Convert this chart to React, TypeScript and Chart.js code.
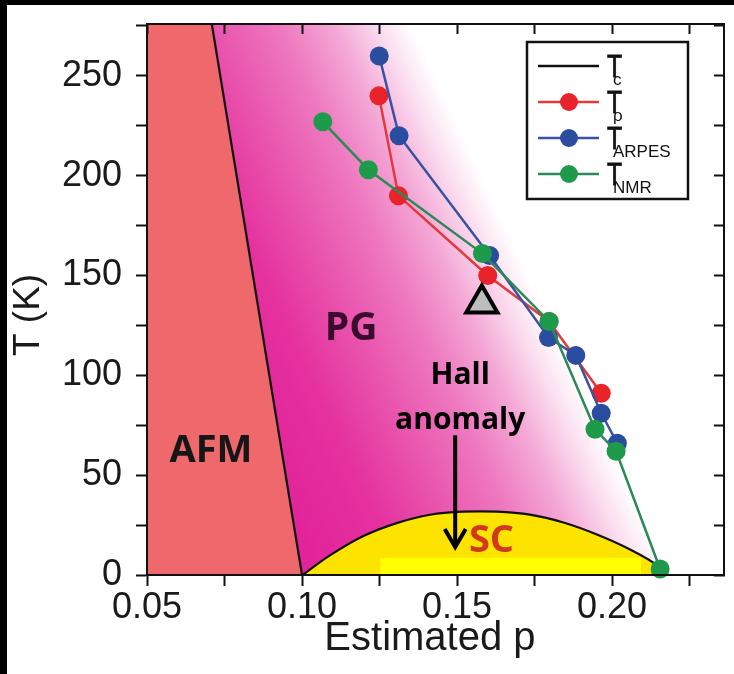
import React, { useEffect, useRef } from 'react';
import { Chart, registerables } from 'chart.js';

Chart.register(...registerables);

// ---- axis ranges and tick labels ----
const pRange = [0.05, 0.2361];
const tRange = [0, 276];
const xTickLabels = ['0.05', '0.10', '0.15', '0.20'];
const yTickLabels = ['0', '50', '100', '150', '200', '250'];

// ---- series (estimated p, T in K) ----
const rhoP = [0.1248, 0.1311, 0.1599, 0.1797, 0.1965];
const rhoT = [240, 190, 150, 127, 91];

const arpesP = [0.1249, 0.1313, 0.1605, 0.1795, 0.1883, 0.1965, 0.2017];
const arpesT = [260, 220, 160, 119, 110, 81, 66];

const nmrP = [0.1067, 0.1214, 0.1582, 0.1797, 0.1945, 0.2013, 0.2155];
const nmrT = [227, 203, 161, 127, 73, 62, 3];

// superconducting dome Tc
const tcP = [0.1002, 0.109, 0.1198, 0.1305, 0.1413, 0.152, 0.1628, 0.1735, 0.1843, 0.1951, 0.2058, 0.2144, 0.2165];
const tcT = [0, 9.8, 19.5, 26, 30.2, 31.7, 31.7, 30.2, 26.3, 20.3, 12.8, 5, 0];

// Hall anomaly marker
const hallP = [0.158];
const hallT = [136];

// region boundaries
const afmP = [0.05, 0.0709, 0.1];
const afmT = [276, 276, 0];
const pgP = [0.0709, 0.2361];
const pgT = [276, 276];
const bandP = [0.1252, 0.2094];
const bandT = [8.7, 8.7];

// pseudogap shading direction (data coordinates)
const gradFrom = [0.1, 0];
const gradTo = [0.197, 70.6];

// text annotations
const regionLabels = ['AFM', 'PG', 'SC'];
const regionP = [0.0706, 0.1158, 0.1611];
const regionT = [56.6, 117.7, 11.5];
const hallLines = ['Hall', 'anomaly'];
const hallTextP = 0.151;
const hallTextT = [95.7, 73];
const arrowP = 0.1494;
const arrowT = [70, 14];

const legendSubs = ['c', 'ρ', 'ARPES', 'NMR'];

// ---- styles ----
const RED = '#E8232A';
const RED_LINE = '#E03A3C';
const BLUE = '#2B4DA0';
const BLUE_LINE = '#3A52A2';
const GREEN = '#1E9B4A';
const GREEN_LINE = '#2A8A58';
const AXIS = '#111111';
const LABEL_FONT = '"Liberation Sans", Arial, Helvetica, sans-serif';
const NOTE_FONT = '"Open Sans", "Liberation Sans", sans-serif';
const regionColors = ['#161616', '#3B0B2E', '#D2381E'];
const regionSizes = [38, 39, 38];

const pgStops: [number, string][] = [
  [0, '#E1219A'],
  [0.275, '#E5319E'],
  [0.456, '#E954AD'],
  [0.637, '#EE78BF'],
  [0.789, '#F4A8D6'],
  [0.91, '#FBDDEF'],
  [1, '#FFFFFF'],
];

const pts = (xs: number[], ys: number[]) => xs.map((x, i) => ({ x, y: ys[i] }));

function pgGradient(c: any) {
  const chart = c.chart;
  const { chartArea, scales } = chart;
  if (!chartArea || !scales || !scales.x || !scales.y) return '#EE78BF';
  const g = chart.ctx.createLinearGradient(
    scales.x.getPixelForValue(gradFrom[0]),
    scales.y.getPixelForValue(gradFrom[1]),
    scales.x.getPixelForValue(gradTo[0]),
    scales.y.getPixelForValue(gradTo[1])
  );
  pgStops.forEach(([o, col]) => g.addColorStop(o, col));
  return g;
}

const legendItems = [
  { color: AXIS, marker: null as string | null },
  { color: RED_LINE, marker: RED },
  { color: BLUE_LINE, marker: BLUE },
  { color: GREEN_LINE, marker: GREEN },
];

const overlayPlugin = {
  id: 'overlay',
  afterDatasetsDraw(chart: any) {
    const { ctx, chartArea } = chart;
    const xs = chart.scales.x;
    const ys = chart.scales.y;
    const px = (v: number) => xs.getPixelForValue(v);
    const py = (v: number) => ys.getPixelForValue(v);
    ctx.save();

    // region labels
    ctx.textAlign = 'center';
    ctx.textBaseline = 'alphabetic';
    regionLabels.forEach((t, i) => {
      ctx.font = `bold ${regionSizes[i]}px ${NOTE_FONT}`;
      ctx.fillStyle = regionColors[i];
      ctx.fillText(t, px(regionP[i]), py(regionT[i]));
    });

    // Hall anomaly text
    ctx.font = `bold 30px ${NOTE_FONT}`;
    ctx.fillStyle = '#000';
    hallLines.forEach((t, i) => ctx.fillText(t, px(hallTextP), py(hallTextT[i])));

    // arrow
    const ax = px(arrowP);
    const ay0 = py(arrowT[0]);
    const ay1 = py(arrowT[1]);
    ctx.strokeStyle = '#000';
    ctx.lineWidth = 4;
    ctx.beginPath();
    ctx.moveTo(ax, ay0);
    ctx.lineTo(ax, ay1 - 1);
    ctx.stroke();
    ctx.beginPath();
    ctx.moveTo(ax - 10.5, ay1 - 18);
    ctx.lineTo(ax, ay1);
    ctx.lineTo(ax + 10.5, ay1 - 18);
    ctx.lineJoin = 'miter';
    ctx.stroke();

    // legend box
    const bx = chartArea.right - 197;
    const by = chartArea.top + 18;
    const bw = 161;
    const bh = 157;
    ctx.fillStyle = '#fff';
    ctx.fillRect(bx, by, bw, bh);
    ctx.lineWidth = 2.5;
    ctx.strokeStyle = '#111';
    ctx.strokeRect(bx, by, bw, bh);
    legendItems.forEach((it, i) => {
      const ly = by + 24 + i * 36;
      ctx.strokeStyle = it.color;
      ctx.lineWidth = 2.5;
      ctx.beginPath();
      ctx.moveTo(bx + 11, ly);
      ctx.lineTo(bx + 72, ly);
      ctx.stroke();
      if (it.marker) {
        ctx.fillStyle = it.marker;
        ctx.beginPath();
        ctx.arc(bx + 42, ly, 9, 0, Math.PI * 2);
        ctx.fill();
      }
      ctx.fillStyle = '#111';
      ctx.strokeStyle = '#111';
      ctx.textAlign = 'left';
      ctx.save();
      ctx.translate(bx + 80, ly + 11);
      ctx.scale(0.8, 1);
      ctx.font = `31px ${LABEL_FONT}`;
      ctx.lineWidth = 0.8;
      ctx.fillText('T', 0, 0);
      ctx.strokeText('T', 0, 0);
      ctx.restore();
      ctx.font = `17px ${LABEL_FONT}`;
      ctx.fillText(legendSubs[i], bx + 86, ly + 19);
    });

    ctx.restore();
  },
};

const tickFont = { family: LABEL_FONT, size: 36 };

const noPad = (s: any) => {
  s.paddingTop = 0;
  s.paddingBottom = 0;
  s.paddingLeft = 0;
  s.paddingRight = 0;
};

export default function App() {
  const ref = useRef<HTMLCanvasElement>(null);

  useEffect(() => {
    const canvas = ref.current;
    if (!canvas) return;

    const seriesBase = {
      showLine: true,
      borderWidth: 2.5,
      pointRadius: 9.5,
      pointBorderWidth: 0,
      tension: 0,
      clip: false as any,
    };
    const areaBase = {
      showLine: true,
      borderWidth: 0,
      borderColor: 'transparent',
      pointRadius: 0,
      fill: 'origin',
    };

    const chart = new Chart(canvas, {
      type: 'scatter',
      data: {
        datasets: [
          {
            label: 'Hall anomaly',
            data: pts(hallP, hallT),
            order: 0,
            showLine: false,
            pointStyle: 'triangle',
            pointRadius: 18,
            pointBackgroundColor: '#BDBDBD',
            pointBorderColor: '#000',
            pointBorderWidth: 4,
            clip: false as any,
          },
          {
            ...seriesBase,
            label: 'T_NMR',
            data: pts(nmrP, nmrT),
            order: 1,
            borderColor: GREEN_LINE,
            pointBackgroundColor: GREEN,
            pointBorderColor: GREEN,
          },
          {
            ...seriesBase,
            label: 'T_ARPES',
            data: pts(arpesP, arpesT),
            order: 2,
            borderColor: BLUE_LINE,
            pointBackgroundColor: BLUE,
            pointBorderColor: BLUE,
          },
          {
            ...seriesBase,
            label: 'T_ρ',
            data: pts(rhoP, rhoT),
            order: 3,
            borderColor: RED_LINE,
            pointBackgroundColor: RED,
            pointBorderColor: RED,
          },
          {
            ...areaBase,
            label: 'band',
            data: pts(bandP, bandT),
            order: 4,
            backgroundColor: '#FFFF00',
          },
          {
            label: 'T_c',
            data: pts(tcP, tcT),
            order: 5,
            showLine: true,
            borderColor: AXIS,
            borderWidth: 2.2,
            pointRadius: 0,
            tension: 0.35,
            fill: 'origin',
            backgroundColor: '#FDE300',
          },
          {
            label: 'AFM boundary',
            data: pts(afmP.slice(1), afmT.slice(1)),
            order: 6,
            showLine: true,
            borderColor: AXIS,
            borderWidth: 2.2,
            pointRadius: 0,
          },
          {
            ...areaBase,
            label: 'AFM',
            data: pts(afmP, afmT),
            order: 7,
            backgroundColor: '#EE686C',
          },
          {
            ...areaBase,
            label: 'PG',
            data: pts(pgP, pgT),
            order: 8,
            backgroundColor: pgGradient,
          },
        ] as any,
      },
      options: {
        animation: false,
        responsive: false,
        events: [],
        layout: { autoPadding: false, padding: { top: 19, right: 10, left: 0, bottom: 0 } },
        plugins: {
          legend: { display: false },
          tooltip: { enabled: false },
        },
        scales: {
          x: {
            type: 'linear',
            position: 'bottom',
            min: pRange[0],
            max: pRange[1],
            afterFit: (s: any) => {
              s.height = 99;
              noPad(s);
            },
            border: { display: true, color: AXIS, width: 2, z: 1 },
            grid: { drawOnChartArea: false, drawTicks: true, tickLength: 11, tickWidth: 2, color: AXIS },
            ticks: {
              stepSize: 0.025,
              autoSkip: false,
              maxRotation: 0,
              minRotation: 0,
              includeBounds: false,
              maxTicksLimit: 20,
              padding: 0,
              color: '#1a1a1a',
              font: tickFont,
              callback: (v: any) => {
                const s = Number(v).toFixed(2);
                return xTickLabels.includes(s) ? s : '';
              },
            },
            title: {
              display: true,
              text: 'Estimated p ',
              color: '#1a1a1a',
              font: { family: LABEL_FONT, size: 40 },
              padding: { top: 0, bottom: 11 },
            },
          },
          x2: {
            type: 'linear',
            position: 'top',
            min: pRange[0],
            max: pRange[1],
            afterFit: (s: any) => {
              s.height = 0;
              noPad(s);
            },
            border: { display: true, color: AXIS, width: 2, z: 1 },
            grid: { drawOnChartArea: false, drawTicks: true, tickLength: -10, tickWidth: 2, color: AXIS, z: 1 },
            ticks: { display: false, stepSize: 0.025, includeBounds: false, maxTicksLimit: 20 },
          },
          y: {
            type: 'linear',
            position: 'left',
            min: tRange[0],
            max: tRange[1],
            afterFit: (s: any) => {
              s.width = 140;
              noPad(s);
            },
            border: { display: true, color: AXIS, width: 2, z: 1 },
            grid: { drawOnChartArea: false, drawTicks: true, tickLength: 11, tickWidth: 2, color: AXIS },
            ticks: {
              stepSize: 25,
              autoSkip: false,
              includeBounds: false,
              maxTicksLimit: 20,
              padding: 14,
              color: '#1a1a1a',
              font: tickFont,
              callback: (v: any) => {
                const s = String(Math.round(Number(v)));
                return yTickLabels.includes(s) ? s : '';
              },
            },
            title: {
              display: true,
              text: 'T (K)   ',
              color: '#1a1a1a',
              font: { family: LABEL_FONT, size: 37 },
              padding: { top: 0, bottom: 0 },
            },
          },
          y2: {
            type: 'linear',
            position: 'right',
            min: tRange[0],
            max: tRange[1],
            afterFit: (s: any) => {
              s.width = 0;
              noPad(s);
            },
            border: { display: true, color: AXIS, width: 2, z: 1 },
            grid: { drawOnChartArea: false, drawTicks: true, tickLength: -10, tickWidth: 2, color: AXIS, z: 1 },
            ticks: { display: false, stepSize: 25, includeBounds: false, maxTicksLimit: 20 },
          },
        },
      } as any,
      plugins: [overlayPlugin],
    });

    return () => chart.destroy();
  }, []);

  return (
    <div
      style={{
        position: 'absolute',
        left: 0,
        top: 0,
        width: 734,
        height: 674,
        background: '#000',
        overflow: 'hidden',
      }}
    >
      <div style={{ position: 'absolute', left: 7, top: 5, width: 727, height: 669, background: '#fff' }}>
        <canvas ref={ref} width={727} height={669} style={{ display: 'block', width: 727, height: 669 }} />
      </div>
    </div>
  );
}
